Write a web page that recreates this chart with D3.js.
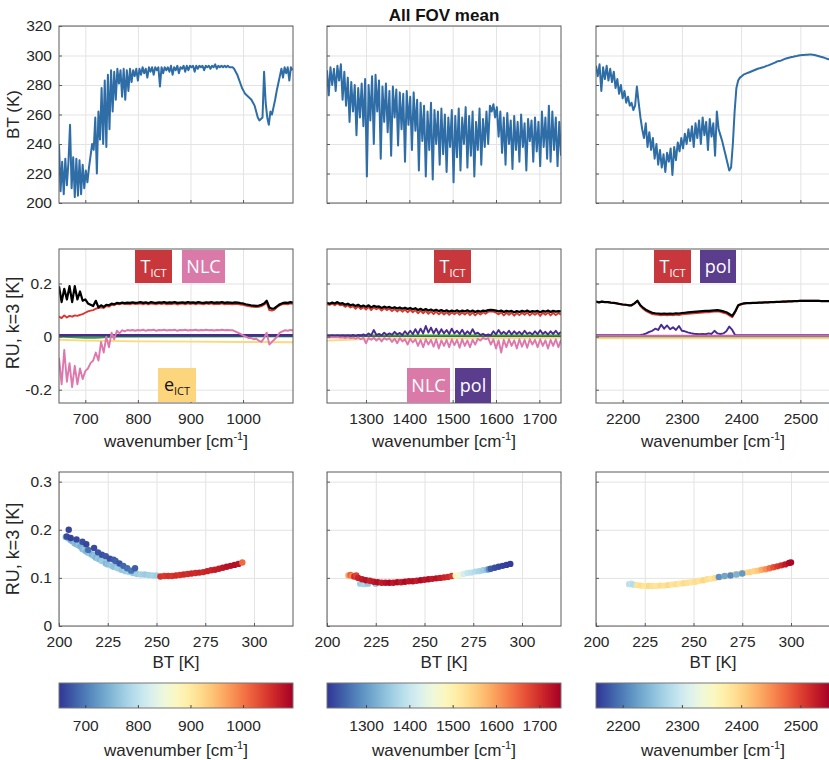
<!DOCTYPE html>
<html>
<head>
<meta charset="utf-8">
<script src="https://cdn.jsdelivr.net/npm/d3@7/dist/d3.min.js"></script>
<style>
  body { margin: 0; background: #fff; }
  svg { display: block; }
  .ax text { font-family: "Liberation Sans", Arial, sans-serif; font-size: 15.5px; fill: #262626; }
  .lbl { font-family: "Liberation Sans", Arial, sans-serif; font-size: 17px; fill: #262626; }
</style>
</head>
<body>
<svg id="fig" width="829" height="760"></svg>
<script>
// ---------- top row: mean brightness temperature (K), regular wavenumber grid ----------
const btStart = [650, 1210, 2155];
const btStep = [3, 4, 3];
const bt1 = [240,208,228,206,230,212,228,253,210,231,204,230,205,229,206,226,210,222,214,224,
  232,240,236,258,220,262,243,278,240,283,238,287,250,290,262,289,270,291,281,290,
  272,291,270,290,276,291,282,290,286,291,283,291,287,292,288,291,285,292,289,292,
  287,292,290,292,279,292,288,292,290,292,289,293,287,292,290,293,288,292,291,293,
  289,293,290,293,292,293,289,293,291,293,292,293,290,293,292,293,291,293,292,294,
  291,293,292,293,292,293,292,293,292,292,292,291,289,287,284,281,278,276,274,273,
  272,271,270,268,266,262,258,256,257,258,289,268,258,253,262,260,265,270,276,281,
  286,291,285,292,288,292,283,292,290];
const bt2 = [290,273,292,280,291,276,293,283,294,270,289,266,285,255,282,262,280,246,278,258,
  281,252,284,218,280,256,286,240,287,262,283,230,279,255,281,248,276,232,279,258,
  277,239,275,250,274,228,276,253,272,236,275,249,270,222,268,242,266,218,262,236,
  268,216,263,240,262,226,264,233,260,221,258,238,263,214,259,231,264,222,258,240,
  265,224,259,232,262,218,255,236,264,226,257,238,262,240,266,262,267,258,265,245,
  262,234,258,226,261,240,256,223,259,236,255,228,260,238,254,222,257,242,256,228,
  258,235,255,225,262,238,258,230,266,228,262,236,258,225,255,232];
const bt3 = [293,286,294,276,292,284,293,283,291,282,289,278,284,274,280,271,276,268,272,266,
  268,263,266,279,268,258,250,244,254,238,248,236,244,230,240,226,236,224,233,221,
  234,228,237,219,238,229,241,235,244,237,247,240,250,242,252,238,254,244,256,240,
  258,246,255,236,257,245,254,232,262,250,246,242,237,232,227,222,224,240,262,278,
  283,285,286,287,287.5,288,288.5,289,289.5,290,290.5,291,291.3,291.7,292,292.5,293,293.3,293.8,294.3,
  294.8,295.3,296,296.3,296.5,297,297.5,298,298.3,298.6,299,299.2,299.5,299.7,300,300.2,300.3,300.4,300.5,300.5,
  300.6,300.6,300.5,300.3,300,299.7,299.3,299,298.7,298.2,297.8,297.5,297];

// ---------- middle row: radiometric uncertainty terms (K), k=3 ----------
const ruStart = [650, 1210, 2155];
const ruStep = [5, 6, 5];
const ruTotal1 = [0.19,0.13,0.18,0.14,0.19,0.13,0.19,0.14,0.17,0.135,
  0.14,0.125,0.12,0.115,0.135,0.11,0.118,0.112,0.12,0.118,
  0.124,0.122,0.127,0.125,0.128,0.126,0.128,0.127,0.129,0.127,
  0.128,0.13,0.127,0.129,0.126,0.13,0.128,0.127,0.129,0.128,
  0.13,0.127,0.129,0.128,0.13,0.127,0.128,0.129,0.127,0.13,
  0.128,0.129,0.127,0.13,0.128,0.127,0.129,0.128,0.13,0.127,
  0.129,0.128,0.13,0.127,0.129,0.128,0.127,0.129,0.128,0.126,
  0.125,0.122,0.12,0.118,0.117,0.116,0.117,0.12,0.125,0.135,
  0.11,0.105,0.107,0.115,0.122,0.126,0.128,0.127,0.13,0.128];
const ruTict1 = [0.075,0.07,0.08,0.072,0.078,0.075,0.08,0.078,0.082,0.085,
  0.09,0.095,0.098,0.1,0.105,0.108,0.11,0.108,0.115,0.113,
  0.12,0.118,0.124,0.122,0.125,0.123,0.124,0.122,0.125,0.123,
  0.124,0.125,0.122,0.125,0.121,0.125,0.124,0.122,0.125,0.123,
  0.125,0.122,0.124,0.123,0.125,0.121,0.124,0.125,0.122,0.125,
  0.123,0.125,0.122,0.125,0.124,0.122,0.125,0.123,0.125,0.122,
  0.124,0.123,0.125,0.122,0.124,0.123,0.122,0.124,0.123,0.121,
  0.12,0.117,0.115,0.113,0.112,0.111,0.112,0.115,0.12,0.128,
  0.1,0.098,0.102,0.112,0.118,0.122,0.124,0.122,0.125,0.124];
const ruNlc1 = [-0.08,-0.18,-0.05,-0.17,-0.1,-0.19,-0.11,-0.18,-0.12,-0.16,
  -0.13,-0.12,-0.1,-0.09,-0.06,-0.09,-0.02,-0.06,0.0,-0.04,
  0.015,-0.01,0.022,0.012,0.024,0.02,0.025,0.023,0.025,0.022,
  0.025,0.023,0.026,0.022,0.025,0.024,0.026,0.022,0.025,0.024,
  0.026,0.023,0.025,0.024,0.026,0.022,0.025,0.024,0.026,0.023,
  0.025,0.024,0.026,0.023,0.025,0.024,0.026,0.024,0.025,0.023,
  0.025,0.024,0.026,0.024,0.025,0.024,0.024,0.02,0.015,0.01,
  0.005,0.0,-0.005,-0.005,-0.01,-0.008,-0.015,-0.02,-0.005,0.015,
  -0.03,-0.02,-0.01,0.0,0.015,0.02,0.024,0.022,0.025,0.024];
const ruTotal2 = [0.127,0.124,0.128,0.125,0.13,0.124,0.126,0.12,0.124,0.118,
  0.121,0.115,0.12,0.113,0.117,0.112,0.118,0.11,0.116,0.112,
  0.114,0.108,0.113,0.109,0.112,0.107,0.111,0.106,0.11,0.105,
  0.109,0.104,0.108,0.103,0.107,0.1,0.105,0.099,0.104,0.098,
  0.102,0.097,0.101,0.096,0.1,0.095,0.099,0.094,0.098,0.095,
  0.099,0.094,0.098,0.095,0.099,0.094,0.098,0.093,0.097,0.094,
  0.098,0.096,0.1,0.101,0.1,0.098,0.095,0.098,0.093,0.097,
  0.094,0.097,0.092,0.096,0.093,0.097,0.094,0.098,0.093,0.096,
  0.094,0.097,0.092,0.097,0.094,0.098,0.093,0.097,0.094,0.096,0.095];
const ruTict2 = [0.122,0.12,0.124,0.118,0.125,0.118,0.12,0.112,0.118,0.11,
  0.115,0.105,0.114,0.104,0.111,0.102,0.112,0.1,0.11,0.103,
  0.108,0.098,0.107,0.1,0.105,0.096,0.104,0.095,0.103,0.094,
  0.102,0.092,0.101,0.092,0.1,0.088,0.098,0.088,0.097,0.086,
  0.095,0.085,0.094,0.084,0.093,0.083,0.092,0.082,0.091,0.084,
  0.092,0.082,0.091,0.083,0.092,0.081,0.091,0.08,0.09,0.083,
  0.092,0.086,0.094,0.095,0.094,0.09,0.084,0.091,0.08,0.09,
  0.082,0.09,0.079,0.089,0.081,0.09,0.082,0.091,0.08,0.089,
  0.082,0.09,0.078,0.09,0.082,0.091,0.08,0.09,0.081,0.089,0.083];
const ruPol2 = [0.005,0.004,0.005,0.004,0.005,0.004,0.005,0.004,0.005,0.004,
  0.006,0.004,0.006,0.005,0.008,0.004,0.012,0.005,0.025,0.006,
  0.01,0.005,0.015,0.006,0.012,0.007,0.018,0.008,0.014,0.006,
  0.02,0.008,0.022,0.009,0.028,0.01,0.03,0.012,0.04,0.015,
  0.034,0.012,0.03,0.01,0.028,0.012,0.025,0.01,0.03,0.012,
  0.022,0.01,0.026,0.008,0.02,0.009,0.028,0.01,0.015,0.006,
  0.01,0.005,0.008,0.005,0.02,0.008,0.025,0.01,0.018,0.009,
  0.022,0.008,0.02,0.01,0.018,0.008,0.022,0.01,0.016,0.008,
  0.02,0.009,0.024,0.01,0.018,0.008,0.02,0.01,0.022,0.009,0.018];
const ruNlc2 = [-0.002,-0.004,-0.002,-0.003,-0.002,-0.004,-0.003,-0.005,-0.003,-0.006,
  -0.004,-0.008,-0.003,-0.01,-0.004,-0.025,-0.005,-0.012,-0.004,-0.015,
  -0.006,-0.018,-0.005,-0.012,-0.006,-0.02,-0.008,-0.025,-0.006,-0.018,
  -0.01,-0.03,-0.008,-0.022,-0.01,-0.035,-0.012,-0.04,-0.01,-0.03,
  -0.012,-0.038,-0.01,-0.045,-0.014,-0.035,-0.012,-0.04,-0.01,-0.032,
  -0.012,-0.042,-0.01,-0.035,-0.014,-0.04,-0.012,-0.03,-0.008,-0.015,
  -0.005,-0.01,-0.006,-0.03,-0.01,-0.045,-0.014,-0.06,-0.012,-0.04,
  -0.01,-0.035,-0.014,-0.045,-0.01,-0.038,-0.012,-0.042,-0.01,-0.03,
  -0.012,-0.04,-0.01,-0.035,-0.014,-0.045,-0.012,-0.035,-0.01,-0.04,-0.012];
const ruTotal3 = [0.132,0.129,0.132,0.13,0.13,0.128,0.127,0.125,0.123,0.121,
  0.12,0.118,0.118,0.125,0.135,0.118,0.108,0.1,0.095,0.09,
  0.088,0.087,0.086,0.087,0.086,0.087,0.086,0.088,0.087,0.089,
  0.09,0.091,0.092,0.093,0.094,0.095,0.096,0.097,0.097,0.098,
  0.099,0.1,0.098,0.095,0.092,0.085,0.078,0.095,0.118,0.123,
  0.125,0.126,0.126,0.127,0.127,0.128,0.128,0.129,0.129,0.13,
  0.13,0.131,0.131,0.132,0.132,0.133,0.133,0.134,0.134,0.135,
  0.135,0.135,0.135,0.135,0.135,0.135,0.134,0.134,0.134,0.134];
const ruTict3 = [0.132,0.129,0.132,0.13,0.13,0.128,0.127,0.125,0.123,0.121,
  0.12,0.118,0.118,0.125,0.135,0.115,0.104,0.096,0.09,0.085,
  0.083,0.082,0.08,0.082,0.08,0.082,0.08,0.083,0.081,0.084,
  0.085,0.086,0.087,0.088,0.089,0.09,0.091,0.092,0.092,0.093,
  0.094,0.095,0.093,0.09,0.087,0.08,0.073,0.092,0.116,0.121,
  0.125,0.126,0.126,0.127,0.127,0.128,0.128,0.129,0.129,0.13,
  0.13,0.131,0.131,0.132,0.132,0.133,0.133,0.134,0.134,0.135,
  0.135,0.135,0.135,0.135,0.135,0.135,0.134,0.134,0.134,0.134];
const ruPol3 = [0.005,0.005,0.005,0.005,0.005,0.005,0.005,0.005,0.005,0.005,
  0.005,0.005,0.005,0.005,0.005,0.006,0.008,0.012,0.018,0.022,
  0.03,0.025,0.045,0.03,0.042,0.028,0.035,0.025,0.04,0.022,
  0.02,0.016,0.013,0.011,0.01,0.009,0.01,0.009,0.012,0.01,
  0.022,0.012,0.01,0.012,0.02,0.038,0.025,0.005,0.005,0.005,
  0.005,0.005,0.005,0.005,0.005,0.005,0.005,0.005,0.005,0.005,
  0.005,0.005,0.005,0.005,0.005,0.005,0.005,0.005,0.005,0.005,
  0.005,0.005,0.005,0.005,0.005,0.005,0.005,0.005,0.005,0.005];

// smooth terms, given at a few wavenumbers
const polWn1 = [650, 1095], ruPol1 = [0.006, 0.006];
const navyWn1 = [650, 1095], ruNavy1 = [0.003, 0.003];
const greenWn1 = [650, 700, 720, 760, 1095], ruGreen1 = [0.0, -0.004, -0.004, 0.0, 0.001];
const eictWn1 = [650, 700, 800, 900, 1000, 1095], ruEict1 = [-0.012, -0.015, -0.018, -0.019, -0.02, -0.021];
const navyWn2 = [1210, 1750], ruNavy2 = [0.002, 0.002];
const greenWn2 = [1210, 1750], ruGreen2 = [0.004, 0.004];
const eictWn2 = [1210, 1260, 1300, 1750], ruEict2 = [-0.015, -0.012, -0.008, -0.004];
const nlcWn3 = [2155, 2550], ruNlc3 = [0.003, 0.003];
const greenWn3 = [2155, 2550], ruGreen3 = [0.001, 0.001];
const eictWn3 = [2155, 2550], ruEict3 = [-0.006, -0.006];

// ---------- bottom row: BT vs total RU, coloured by wavenumber ----------
const scBT1 = [203.5,205,206,207,208,209,210,211,212,213,214,215,216,217,218,219,220,221,222,224,225,227,228,230,232,234,236,238,240,242,244,246,248,250,
  205,204,206,209,212,214,215,218,220,222,224,226,228,229,231,233,235,237,239,
  252,254,256,258,260,262,264,266,268,270,272,274,276,278,280,282,284,286,288,290,292,294];
const scRU1 = [0.185,0.182,0.178,0.176,0.172,0.17,0.168,0.165,0.16,0.158,0.155,0.152,0.15,0.148,0.145,0.142,0.14,0.138,0.135,0.13,0.128,0.125,0.123,0.12,0.117,0.114,0.112,0.11,0.108,0.107,0.107,0.106,0.105,0.105,
  0.2,0.186,0.183,0.18,0.175,0.17,0.158,0.162,0.153,0.148,0.145,0.14,0.138,0.135,0.13,0.125,0.12,0.115,0.12,
  0.103,0.104,0.104,0.104,0.105,0.106,0.107,0.108,0.109,0.11,0.111,0.112,0.114,0.116,0.117,0.119,0.121,0.123,0.125,0.127,0.129,0.132];
const scWN1 = [740,745,750,742,755,748,760,744,752,765,746,758,770,750,762,748,766,756,772,752,760,768,758,774,764,770,776,766,772,778,770,776,780,774,
  660,665,658,662,668,660,690,664,672,670,675,668,676,680,672,685,690,695,678,
  1050,1045,1052,1048,1055,1050,1058,1054,1060,1056,1062,1058,1065,1062,1068,1070,1074,1078,1080,1082,1078,1010];

const scBT2 = [217,219,221,225,
  211,212,213,214,215,216,218,220,222,224,226,228,230,232,234,236,238,240,242,244,246,248,250,252,254,256,258,260,262,264,
  266,268,270,272,274,276,278,280,282,283,284,286,288,290,292,294];
const scRU2 = [0.088,0.087,0.088,0.088,
  0.105,0.106,0.104,0.103,0.105,0.1,0.097,0.095,0.094,0.092,0.091,0.09,0.09,0.09,0.09,0.091,0.091,0.092,0.093,0.093,0.094,0.095,0.096,0.097,0.098,0.099,0.1,0.101,0.102,0.104,
  0.105,0.106,0.108,0.11,0.111,0.113,0.114,0.116,0.117,0.118,0.119,0.121,0.123,0.125,0.127,0.129];
const scWN2 = [1360,1370,1350,1340,
  1590,1650,1620,1700,1680,1710,1720,1730,1715,1725,1735,1720,1730,1740,1725,1735,1722,1738,1728,1732,1720,1740,1726,1734,1722,1730,1718,1712,1705,1690,
  1480,1460,1420,1400,1390,1380,1370,1360,1340,1290,1240,1230,1225,1220,1218,1215];

const scBT3 = [217,218,219,
  221,223,225,227,229,231,233,235,237,239,241,243,245,247,249,251,253,255,257,259,261,263,265,267,269,271,273,275,277,279,281,283,
  263,266,269,272,275,
  285,287,289,291,293,295,297,299,300];
const scRU3 = [0.087,0.088,0.086,
  0.085,0.084,0.083,0.083,0.083,0.083,0.084,0.084,0.085,0.086,0.087,0.088,0.089,0.09,0.091,0.092,0.094,0.095,0.097,0.098,0.1,0.101,0.103,0.104,0.106,0.107,0.108,0.11,0.111,0.112,0.114,0.115,
  0.102,0.104,0.105,0.107,0.109,
  0.117,0.118,0.12,0.122,0.124,0.126,0.128,0.131,0.132];
const scWN3 = [2285,2290,2280,
  2385,2390,2380,2395,2388,2382,2392,2386,2396,2384,2390,2380,2394,2388,2384,2392,2386,2398,2390,2384,2394,2388,2396,2390,2386,2398,2392,2400,2394,2404,2400,2410,
  2215,2230,2210,2240,2220,
  2430,2450,2470,2490,2505,2515,2530,2540,2545];

// ---------- axes ----------
const wnDomain = [[650, 1095], [1210, 1750], [2155, 2550]];
const wnTicks = [[700, 800, 900, 1000], [1300, 1400, 1500, 1600, 1700], [2200, 2300, 2400, 2500]];
const btTicks = [200, 220, 240, 260, 280, 300, 320];
const ruTicks = [-0.2, 0, 0.2];
const scXTicks = [200, 225, 250, 275, 300];
const scYTicks = [0, 0.1, 0.2, 0.3];

// ---------- drawing ----------
const svg = d3.select('#fig');
const left = [59, 327, 596], pw = 234;
const rows = [{top: 26, h: 177}, {top: 249, h: 154}, {top: 472, h: 154}];
const gridCol = '#e3e3e3', boxCol = '#5a5a5a';
const cmap = t => d3.interpolateRdYlBu(1 - t);

function grid(row, col, x, y, xt, yt) {
  const h = rows[row].h;
  const g = svg.append('g').attr('transform', `translate(${left[col]},${rows[row].top})`);
  g.append('g').attr('transform', `translate(0,${h})`)
    .call(d3.axisBottom(x).tickValues(xt).tickSize(-h).tickFormat(''))
    .call(s => s.select('.domain').remove())
    .call(s => s.selectAll('line').attr('stroke', gridCol));
  g.append('g')
    .call(d3.axisLeft(y).tickValues(yt).tickSize(-pw).tickFormat(''))
    .call(s => s.select('.domain').remove())
    .call(s => s.selectAll('line').attr('stroke', gridCol));
  const id = `clip${row}${col}`;
  g.append('clipPath').attr('id', id).append('rect').attr('width', pw).attr('height', h);
  const plot = g.append('g').attr('clip-path', `url(#${id})`);
  return {g, plot, h};
}

function frame(p, x, y, xt, yt, xFmt, yFmt) {
  const xa = p.g.append('g').attr('class', 'ax').attr('transform', `translate(0,${p.h})`)
    .call(d3.axisBottom(x).tickValues(xt).tickSize(-3).tickPadding(10).tickFormat(xFmt));
  xa.select('.domain').remove();
  xa.selectAll('line').attr('stroke', boxCol);
  const ya = p.g.append('g').attr('class', 'ax')
    .call(d3.axisLeft(y).tickValues(yt).tickSize(-3).tickPadding(7).tickFormat(yFmt));
  ya.select('.domain').remove();
  ya.selectAll('line').attr('stroke', boxCol);
  p.g.append('rect').attr('width', pw).attr('height', p.h)
    .attr('fill', 'none').attr('stroke', boxCol).attr('stroke-width', 1);
}

function wnLabel(g, x, y) {
  const t = g.append('text').attr('class', 'lbl').attr('x', x).attr('y', y).attr('text-anchor', 'middle');
  t.append('tspan').text('wavenumber [cm');
  t.append('tspan').attr('font-size', 11).attr('dy', -7).text('-1');
  t.append('tspan').attr('dy', 7).text(']');
}

const grid2 = (start, step, vals) => vals.map((v, i) => [start + i * step, v]);
const none = () => '';

const btSeries = [bt1, bt2, bt3];
const ruSets = [
  [
    {d: d3.zip(eictWn1, ruEict1), c: '#fdd97e'},
    {d: d3.zip(greenWn1, ruGreen1), c: '#33a02c'},
    {d: d3.zip(navyWn1, ruNavy1), c: '#2b3a8e'},
    {d: d3.zip(polWn1, ruPol1), c: '#4a2b8e'},
    {d: grid2(ruStart[0], ruStep[0], ruNlc1), c: '#de77ae'},
    {d: grid2(ruStart[0], ruStep[0], ruTict1), c: '#d9372b'},
    {d: grid2(ruStart[0], ruStep[0], ruTotal1), c: '#000', w: 2.2}
  ],
  [
    {d: d3.zip(eictWn2, ruEict2), c: '#fdd97e'},
    {d: d3.zip(navyWn2, ruNavy2), c: '#2b3a8e'},
    {d: d3.zip(greenWn2, ruGreen2), c: '#33a02c'},
    {d: grid2(ruStart[1], ruStep[1], ruPol2), c: '#4a2b8e'},
    {d: grid2(ruStart[1], ruStep[1], ruNlc2), c: '#de77ae'},
    {d: grid2(ruStart[1], ruStep[1], ruTict2), c: '#d9372b'},
    {d: grid2(ruStart[1], ruStep[1], ruTotal2), c: '#000', w: 2.2}
  ],
  [
    {d: d3.zip(eictWn3, ruEict3), c: '#fdd97e'},
    {d: d3.zip(greenWn3, ruGreen3), c: '#33a02c'},
    {d: grid2(ruStart[2], ruStep[2], ruPol3), c: '#4a2b8e'},
    {d: d3.zip(nlcWn3, ruNlc3), c: '#d066b0'},
    {d: grid2(ruStart[2], ruStep[2], ruTict3), c: '#d9372b'},
    {d: grid2(ruStart[2], ruStep[2], ruTotal3), c: '#000', w: 2.2}
  ]
];
const scSets = [[scBT1, scRU1, scWN1], [scBT2, scRU2, scWN2], [scBT3, scRU3, scWN3]];

const tags = [
  {col: 0, x: 76, y: 1, w: 37, h: 33, fill: '#c8373b', ink: '#fff', main: 'T', sub: 'ICT'},
  {col: 0, x: 123, y: 1, w: 43, h: 33, fill: '#d97aa9', ink: '#fff', main: 'NLC'},
  {col: 0, x: 99, y: 119, w: 38, h: 34, fill: '#fdd57c', ink: '#111', main: 'e', sub: 'ICT'},
  {col: 1, x: 107, y: 1, w: 37, h: 33, fill: '#c8373b', ink: '#fff', main: 'T', sub: 'ICT'},
  {col: 1, x: 80, y: 119, w: 43, h: 35, fill: '#d97aa9', ink: '#fff', main: 'NLC'},
  {col: 1, x: 128, y: 119, w: 36, h: 35, fill: '#5b3d8e', ink: '#fff', main: 'pol'},
  {col: 2, x: 58, y: 1, w: 37, h: 33, fill: '#c8373b', ink: '#fff', main: 'T', sub: 'ICT'},
  {col: 2, x: 104, y: 1, w: 36, h: 33, fill: '#5b3d8e', ink: '#fff', main: 'pol'}
];

const defs = svg.append('defs');
const grad = defs.append('linearGradient').attr('id', 'rdylbu');
d3.range(0, 1.0001, 0.05).forEach(t => grad.append('stop').attr('offset', t).attr('stop-color', cmap(t)));

for (let col = 0; col < 3; col++) {
  const x = d3.scaleLinear().domain(wnDomain[col]).range([0, pw]);
  const yFmtOn = col === 0 ? (d => String(d)) : none;

  // top: BT spectrum
  const yBT = d3.scaleLinear().domain([200, 320]).range([rows[0].h, 0]);
  const p0 = grid(0, col, x, yBT, wnTicks[col], btTicks);
  p0.plot.append('path')
    .datum(grid2(btStart[col], btStep[col], btSeries[col]))
    .attr('fill', 'none').attr('stroke', '#2f6da6').attr('stroke-width', 2).attr('stroke-linejoin', 'round')
    .attr('d', d3.line().x(d => x(d[0])).y(d => yBT(d[1])));
  frame(p0, x, yBT, wnTicks[col], btTicks, none, yFmtOn);

  // middle: uncertainty terms
  const yRU = d3.scaleLinear().domain([-0.25, 0.33]).range([rows[1].h, 0]);
  const p1 = grid(1, col, x, yRU, wnTicks[col], ruTicks);
  const ln = d3.line().x(d => x(d[0])).y(d => yRU(d[1]));
  ruSets[col].forEach(s => {
    p1.plot.append('path').datum(s.d)
      .attr('fill', 'none').attr('stroke', s.c).attr('stroke-width', s.w || 1.9).attr('stroke-linejoin', 'round')
      .attr('d', ln);
  });
  frame(p1, x, yRU, wnTicks[col], ruTicks, d3.format('d'), yFmtOn);
  wnLabel(p1.g, pw / 2, p1.h + 44);

  tags.filter(t => t.col === col).forEach(t => {
    p1.g.append('rect').attr('x', t.x).attr('y', t.y).attr('width', t.w).attr('height', t.h).attr('fill', t.fill);
    const tx = p1.g.append('text').attr('x', t.x + t.w / 2).attr('y', t.y + t.h / 2 + 6)
      .attr('text-anchor', 'middle').attr('fill', t.ink)
      .attr('font-family', '"Open Sans", "Noto Sans", sans-serif').attr('font-size', 18);
    tx.append('tspan').text(t.main);
    if (t.sub) tx.append('tspan').attr('font-size', 11).attr('dy', 4).text(t.sub);
  });

  // bottom: scatter BT vs RU
  const xs = d3.scaleLinear().domain([200, 320]).range([0, pw]);
  const ys = d3.scaleLinear().domain([0, 0.32]).range([rows[2].h, 0]);
  const cs = d3.scaleSequential(cmap).domain(wnDomain[col]);
  const p2 = grid(2, col, xs, ys, scXTicks, scYTicks);
  const [sb, sr, sw] = scSets[col];
  p2.plot.selectAll('circle').data(d3.zip(sb, sr, sw)).join('circle')
    .attr('cx', d => xs(d[0])).attr('cy', d => ys(d[1])).attr('r', 3.2)
    .attr('fill', d => cs(d[2]));
  frame(p2, xs, ys, scXTicks, scYTicks, d3.format('d'), yFmtOn);
  p2.g.append('text').attr('class', 'lbl').attr('x', pw / 2).attr('y', p2.h + 42)
    .attr('text-anchor', 'middle').text('BT [K]');

  // colorbar
  const cb = svg.append('g').attr('transform', `translate(${left[col]},683)`);
  cb.append('rect').attr('width', pw).attr('height', 25).attr('fill', 'url(#rdylbu)')
    .attr('stroke', '#777').attr('stroke-width', 1);
  const ca = cb.append('g').attr('class', 'ax').attr('transform', 'translate(0,25)')
    .call(d3.axisBottom(x).tickValues(wnTicks[col]).tickSize(-3).tickPadding(12).tickFormat(d3.format('d')));
  ca.select('.domain').remove();
  ca.selectAll('line').attr('stroke', '#444');
  wnLabel(cb, pw / 2, 73);
}

// axis titles
const ylab = (cy, txt, fs) => svg.append('text').attr('class', 'lbl').attr('font-size', fs)
  .style('font-size', fs + 'px')
  .attr('transform', `translate(19,${cy}) rotate(-90)`).attr('text-anchor', 'middle').text(txt);
ylab(rows[0].top + rows[0].h / 2, 'BT (K)', 17);
ylab(rows[1].top + rows[1].h / 2 - 3, 'RU, k=3 [K]', 18);
ylab(rows[2].top + rows[2].h / 2, 'RU, k=3 [K]', 18);

svg.append('text').attr('x', left[1] + pw / 2).attr('y', 21).attr('text-anchor', 'middle')
  .attr('font-family', '"Liberation Sans", Arial, sans-serif').attr('font-weight', 'bold')
  .attr('font-size', 17).attr('fill', '#111').text('All FOV mean');
</script>
</body>
</html>
